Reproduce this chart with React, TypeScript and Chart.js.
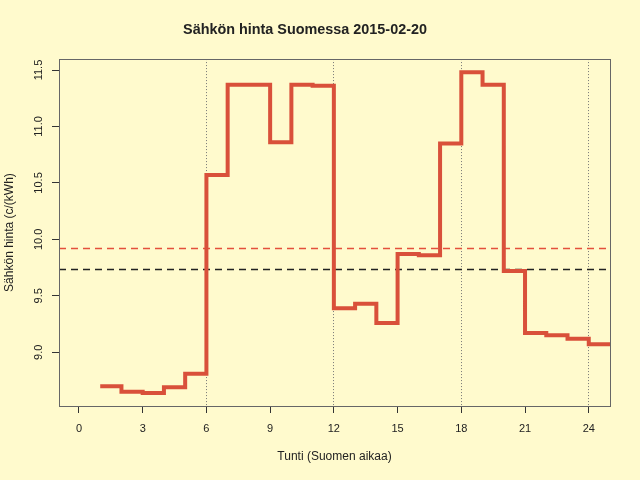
import { useRef, useEffect } from "react";
import { Chart, registerables } from "chart.js";

Chart.register(...registerables);

// hinnat tunneittain, c/kWh (tunnit 1..24, jakso [h, h+1])
const hours = [1, 2, 3, 4, 5, 6, 7, 8, 9, 10, 11, 12, 13, 14, 15, 16, 17, 18, 19, 20, 21, 22, 23, 24];
const prices = [
  8.70, 8.65, 8.64, 8.69, 8.81, 10.57, 11.37, 11.37, 10.86, 11.37, 11.36, 9.39,
  9.43, 9.26, 9.87, 9.86, 10.85, 11.48, 11.37, 9.72, 9.17, 9.15, 9.12, 9.07,
];
const xTickValues = [0, 3, 6, 9, 12, 15, 18, 21, 24];
const yTickValues = [9.0, 9.5, 10.0, 10.5, 11.0, 11.5];
const guideHours = [6, 12, 18, 24];
const meanRed = 9.92;
const meanBlack = 9.74;

const BG = "#fffacd";
const LINE = "#d9503a";
const FONT = "'Liberation Sans', Arial, sans-serif";

const refLines = {
  id: "refLines",
  beforeDatasetsDraw(chart: any) {
    const { ctx, chartArea, scales } = chart;
    const draw = (v: number, color: string) => {
      const y = Math.round(scales.y.getPixelForValue(v)) + 0.5;
      ctx.save();
      ctx.strokeStyle = color;
      ctx.lineWidth = 1.5;
      ctx.setLineDash([7, 5]);
      ctx.beginPath();
      ctx.moveTo(chartArea.left, y);
      ctx.lineTo(chartArea.right - 3, y);
      ctx.stroke();
      ctx.restore();
    };
    draw(meanRed, "#e4503c");
    draw(meanBlack, "#222222");
  },
  afterDraw(chart: any) {
    const { ctx, chartArea } = chart;
    ctx.save();
    ctx.strokeStyle = "#666";
    ctx.lineWidth = 1;
    ctx.strokeRect(
      Math.round(chartArea.left) + 0.5,
      Math.round(chartArea.top) + 0.5,
      Math.round(chartArea.right - chartArea.left),
      Math.round(chartArea.bottom - chartArea.top)
    );
    ctx.restore();
  },
};

export default function App() {
  const canvasRef = useRef<HTMLCanvasElement>(null);

  useEffect(() => {
    document.body.style.margin = "0";
    document.body.style.background = BG;
    if (!canvasRef.current) return;

    // viimeinen jakso päättyy tuntiin 25
    const points = hours.map((h, i) => ({ x: h, y: prices[i] }));
    points.push({ x: hours[hours.length - 1] + 1, y: prices[prices.length - 1] });

    const chart = new Chart(canvasRef.current, {
      type: "line",
      data: {
        datasets: [
          {
            data: points,
            borderColor: LINE,
            borderWidth: 4,
            stepped: "before",
            pointRadius: 0,
            fill: false,
          },
        ],
      },
      options: {
        animation: false,
        responsive: false,
        events: [],
        layout: { padding: { left: 0, right: 30, top: 0, bottom: 0 } },
        plugins: {
          legend: { display: false },
          tooltip: { enabled: false },
          title: {
            display: true,
            text: "Sähkön hinta Suomessa 2015-02-20",
            color: "#222",
            font: { family: FONT, size: 14.4, weight: "bold", lineHeight: 1.2 },
            padding: { top: 21.4, bottom: 20.4 },
          },
        },
        scales: {
          x: {
            type: "linear",
            min: -0.94,
            max: 25,
            afterBuildTicks: (s: any) => {
              s.ticks = xTickValues.map((v) => ({ value: v }));
            },
            afterFit: (s: any) => {
              s.height = 74;
            },
            border: { display: false, dash: [1, 2] },
            grid: {
              drawOnChartArea: true,
              tickLength: 7,
              tickColor: "#333",
              tickBorderDash: [],
              color: (c: any) => (c.tick && guideHours.includes(c.tick.value) ? "#777" : "rgba(0,0,0,0)"),
              lineWidth: 1,
            },
            ticks: {
              color: "#222",
              padding: 9,
              maxRotation: 0,
              font: { family: FONT, size: 11 },
              callback: (v: any) => String(v),
            },
            title: {
              display: true,
              text: "Tunti (Suomen aikaa)",
              color: "#222",
              font: { family: FONT, size: 12 },
              padding: { top: 0, bottom: 16 },
            },
          },
          y: {
            type: "linear",
            min: 8.524,
            max: 11.597,
            afterBuildTicks: (s: any) => {
              s.ticks = yTickValues.map((v) => ({ value: v }));
            },
            afterFit: (s: any) => {
              s.width = 59;
            },
            border: { display: false },
            grid: {
              drawOnChartArea: false,
              tickLength: 7,
              tickColor: "#333",
            },
            ticks: {
              color: "#222",
              padding: 2,
              minRotation: 90,
              maxRotation: 90,
              crossAlign: "center",
              font: { family: FONT, size: 11 },
              callback: (v: any) => Number(v).toFixed(1),
            },
            title: {
              display: true,
              text: "Sähkön hinta (c/(kWh)",
              color: "#222",
              font: { family: FONT, size: 12 },
              padding: { top: 2, bottom: 0 },
            },
          },
        },
      } as any,
      plugins: [refLines],
    });

    return () => {
      chart.destroy();
    };
  }, []);

  return (
    <div style={{ width: 640, height: 480, background: BG }}>
      <canvas ref={canvasRef} width={640} height={480} />
    </div>
  );
}
